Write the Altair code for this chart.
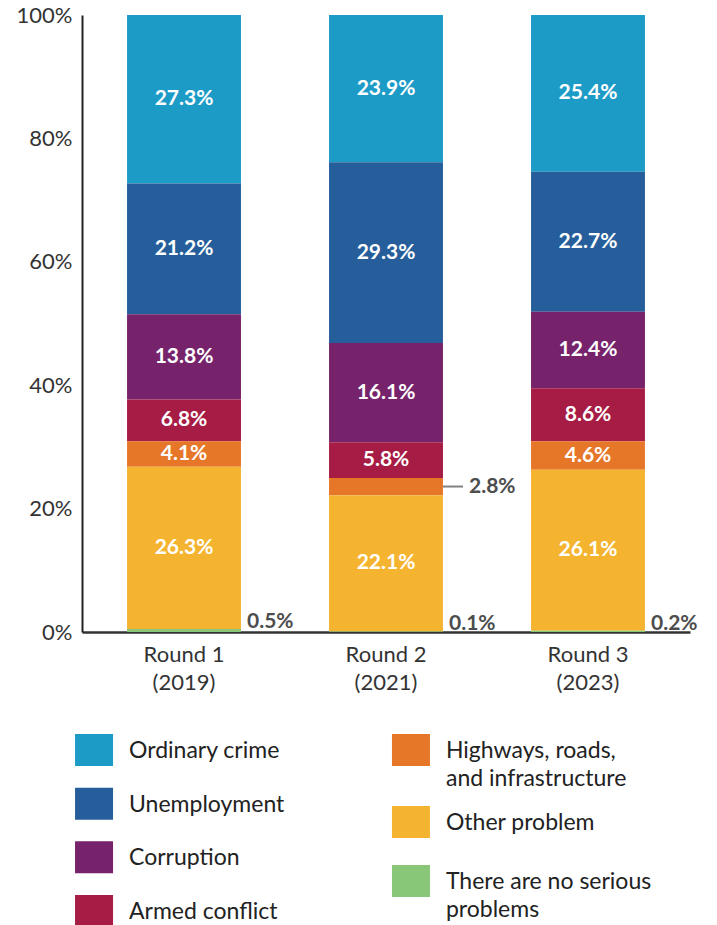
import altair as alt
import pandas as pd

FONT = "Lato"

rounds = ["Round 1\n(2019)", "Round 2\n(2021)", "Round 3\n(2023)"]
categories = [
    "Ordinary crime",
    "Unemployment",
    "Corruption",
    "Armed conflict",
    "Highways, roads,\nand infrastructure",
    "Other problem",
    "There are no serious\nproblems",
]
colors = ["#1D9BC7", "#255E9A", "#76236C", "#A61C45", "#E67628", "#F5B430", "#88C678"]

ordinary_crime = [27.3, 23.9, 25.4]
unemployment = [21.2, 29.3, 22.7]
corruption = [13.8, 16.1, 12.4]
armed_conflict = [6.8, 5.8, 8.6]
highways = [4.1, 2.8, 4.6]
other_problem = [26.3, 22.1, 26.1]
no_serious = [0.5, 0.1, 0.2]

series = [ordinary_crime, unemployment, corruption, armed_conflict,
          highways, other_problem, no_serious]

rows = []
n = len(categories)
for ci, (cat, vals) in enumerate(zip(categories, series)):
    for ri, r in enumerate(rounds):
        v = vals[ri]
        if ci == n - 1:
            pos = "base"
        elif v < 3:
            pos = "side"
        else:
            pos = "in"
        rows.append({"round": r, "category": cat, "value": v,
                     "rank": n - 1 - ci, "lbl": f"{v:.1f}%", "pos": pos})
df = pd.DataFrame(rows)

color_scale = alt.Scale(domain=categories, range=colors)

base = alt.Chart(df).transform_stack(
    stack="value", groupby=["round"],
    sort=[alt.SortField("rank", order="ascending")],
    as_=["y0", "y1"], offset="normalize",
).transform_calculate(mid="(datum.y0 + datum.y1) / 2")

x_enc = alt.X(
    "round:N", sort=rounds,
    scale=alt.Scale(paddingInner=0.436, paddingOuter=0.223),
    axis=alt.Axis(title=None, labelAngle=0, labelExpr="split(datum.label, '\\n')",
                  ticks=False, labelPadding=12, labelFontSize=22, labelLineHeight=28,
                  labelColor="#333", labelFont=FONT, domainColor="#333", domainWidth=2.5),
)
y_scale = alt.Scale(domain=[0, 1], nice=False)
y_axis = alt.Axis(title=None, format="%", values=[0, 0.2, 0.4, 0.6, 0.8, 1.0],
                  grid=False, ticks=False, labelPadding=10, labelFontSize=22,
                  labelColor="#333", labelFont=FONT, domainColor="#222", domainWidth=2)

bars = base.mark_bar().encode(
    x=x_enc,
    y=alt.Y("y0:Q", scale=y_scale, axis=y_axis),
    y2="y1:Q",
    color=alt.Color("category:N", scale=color_scale, legend=None),
)

inside = base.transform_filter("datum.pos == 'in'").mark_text(
    color="white", fontWeight="bold", fontSize=21, font=FONT, baseline="middle"
).encode(x=x_enc, y=alt.Y("mid:Q", scale=y_scale), text="lbl:N")

side = base.transform_filter("datum.pos == 'side'").mark_text(
    color="#4d4d4d", fontWeight="bold", fontSize=21, font=FONT, baseline="middle",
    align="left", dx=83
).encode(x=x_enc, y=alt.Y("mid:Q", scale=y_scale), text="lbl:N")

leader = base.transform_filter("datum.pos == 'side'").mark_tick(
    color="#4d4d4d", size=20, thickness=2, xOffset=67
).encode(x=x_enc, y=alt.Y("mid:Q", scale=y_scale))

bottom = base.transform_filter("datum.pos == 'base'").mark_text(
    color="#4d4d4d", fontWeight="bold", fontSize=21, font=FONT, baseline="alphabetic",
    align="left", dx=63, dy=-1
).encode(x=x_enc, y=alt.Y("y1:Q", scale=y_scale), text="lbl:N")

main = alt.layer(bars, inside, leader, side, bottom).properties(width=608, height=617)

# custom legend: column-major, two columns
leg_rows = []
col1 = categories[:4]
col2 = categories[4:]
for i, c in enumerate(col1):
    leg_rows.append({"category": c, "col": 0, "slot": float(i)})
slot = 0.0
for c in col2:
    leg_rows.append({"category": c, "col": 1, "slot": slot})
    slot += 1.1 + 0.24 * (c.count("\n"))
leg_df = pd.DataFrame(leg_rows)

leg_base = alt.Chart(leg_df).encode(
    x=alt.X("col:O", scale=alt.Scale(type="point", padding=0.038), axis=None),
    y=alt.Y("slot:Q", scale=alt.Scale(domain=[0, 3], reverse=True, nice=False, zero=False), axis=None),
)
symbols = leg_base.mark_point(
    shape="M-1,-0.842L1,-0.842L1,0.842L-1,0.842Z", size=1444, filled=True, opacity=1
).encode(color=alt.Color("category:N", scale=color_scale, legend=None))
labels = leg_base.mark_text(
    align="left", baseline="top", dx=35, dy=-10, fontSize=23, font=FONT,
    lineBreak="\n", lineHeight=28, color="#222"
).encode(text="category:N")
legend = alt.layer(symbols, labels).properties(width=341, height=161)

chart = alt.vconcat(main, legend, spacing=118, bounds="flush").properties(
    padding={"left": 16, "top": 4, "right": 5, "bottom": 0}
).configure(font=FONT).configure_view(stroke=None)

chart.save("out.html", embed_options={"renderer": "svg", "actions": False})
